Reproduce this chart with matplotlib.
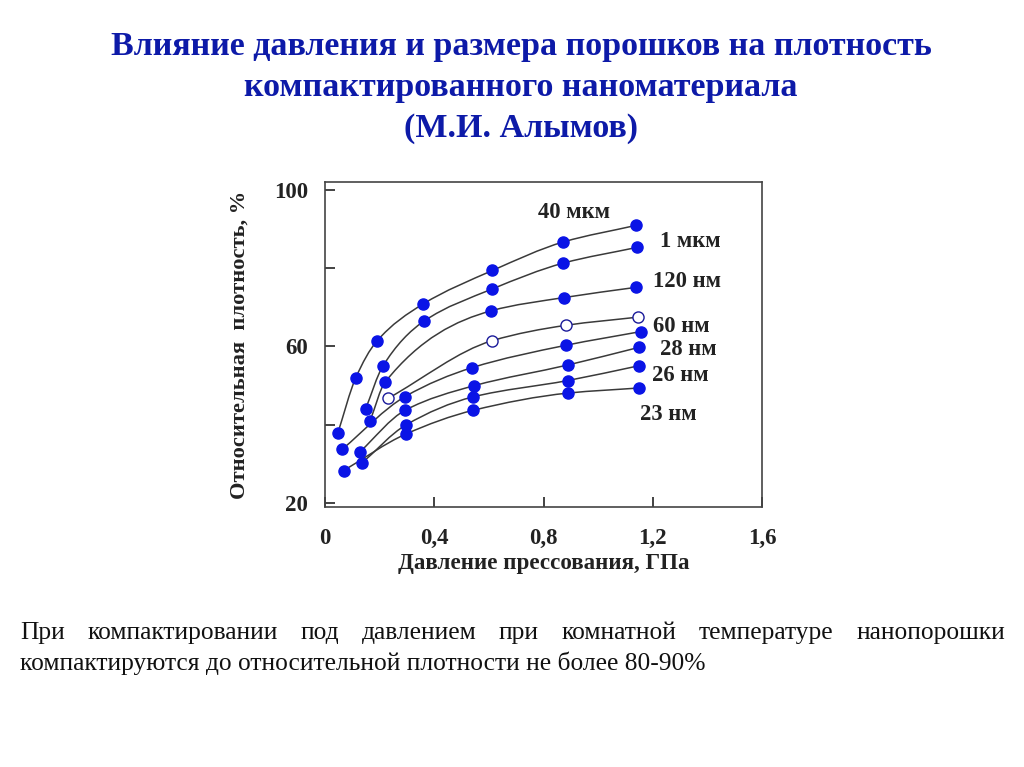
# Влияние давления и размера порошков на плотность (М.И. Алымов)
import numpy as np
import matplotlib.pyplot as plt
from matplotlib.path import Path
from matplotlib.patches import PathPatch

plt.rcParams['font.family'] = ['Liberation Serif', 'DejaVu Serif']

# данные (давление, ГПа / относительная плотность, %)
x_40mkm = [0.047, 0.112, 0.189, 0.358, 0.613, 0.873, 1.137]
y_40mkm = [37.9, 51.9, 61.3, 70.8, 79.4, 86.7, 90.9]

x_1mkm = [0.149, 0.211, 0.361, 0.613, 0.873, 1.142]
y_1mkm = [44.1, 54.9, 66.4, 74.7, 81.3, 85.3]

x_120nm = [0.165, 0.220, 0.608, 0.876, 1.139]
y_120nm = [41.0, 50.9, 69.1, 72.5, 75.1]

x_60nm = [0.232, 0.613, 0.882, 1.147]
y_60nm = [46.8, 61.5, 65.4, 67.5]

x_28nm = [0.064, 0.293, 0.539, 0.882, 1.156]
y_28nm = [33.8, 47.2, 54.6, 60.3, 63.8]

x_26nm = [0.128, 0.293, 0.547, 0.891, 1.151]
y_26nm = [33.1, 43.7, 50.0, 55.3, 59.8]

x_25nm = [0.135, 0.295, 0.541, 0.889, 1.151]
y_25nm = [30.2, 39.9, 47.1, 51.3, 55.1]

x_23nm = [0.068, 0.295, 0.543, 0.891, 1.151]
y_23nm = [28.3, 37.6, 43.7, 48.1, 49.4]

# подписи кривых и их места
labels = ['40 мкм', '1 мкм', '120 нм', '60 нм', '28 нм', '26 нм', '23 нм']
label_x = [0.912, 1.337, 1.326, 1.303, 1.329, 1.300, 1.256]
label_y = [94.1, 86.9, 76.7, 65.2, 59.3, 52.7, 42.7]

x_ticks = [0, 0.4, 0.8, 1.2, 1.6]
x_ticklabels = ['0', '0,4', '0,8', '1,2', '1,6']
y_ticks = [20, 40, 60, 80, 100]
y_ticklabels = ['20', '', '60', '', '100']

title = ['Влияние давления и размера порошков на плотность',
         'компактированного наноматериала',
         '(М.И. Алымов)']
text_line1 = 'При компактировании под давлением при комнатной температуре нанопорошки'
text_line2 = 'компактируются до относительной плотности не более 80-90%'


def smooth_path(xs, ys):
    # гладкая кривая через точки (монотонный кубический Эрмит -> Bezier)
    x = np.asarray(xs, float)
    y = np.asarray(ys, float)
    h = np.diff(x)
    d = np.diff(y) / h
    m = np.empty_like(y)
    m[0], m[-1] = d[0], d[-1]
    for i in range(1, len(x) - 1):
        if d[i - 1] * d[i] <= 0:
            m[i] = 0
        else:
            w1 = 2 * h[i] + h[i - 1]
            w2 = h[i] + 2 * h[i - 1]
            m[i] = (w1 + w2) / (w1 / d[i - 1] + w2 / d[i])
    verts = [(x[0], y[0])]
    codes = [Path.MOVETO]
    for i in range(len(x) - 1):
        verts += [(x[i] + h[i] / 3, y[i] + m[i] * h[i] / 3),
                  (x[i + 1] - h[i] / 3, y[i + 1] - m[i + 1] * h[i] / 3),
                  (x[i + 1], y[i + 1])]
        codes += [Path.CURVE4] * 3
    return Path(verts, codes)


fig = plt.figure(figsize=(10.24, 7.67), dpi=100)
ax = fig.add_axes([0.3174, 0.339, 0.4268, 0.4237])

series = [(x_40mkm, y_40mkm, True), (x_1mkm, y_1mkm, True),
          (x_120nm, y_120nm, True), (x_60nm, y_60nm, False),
          (x_28nm, y_28nm, True), (x_26nm, y_26nm, True),
          (x_25nm, y_25nm, True), (x_23nm, y_23nm, True)]

for xs, ys, filled in series:
    ax.add_patch(PathPatch(smooth_path(xs, ys), fill=False,
                           edgecolor='#3a3a3a', lw=1.1, zorder=2))
    if filled:
        ax.plot(xs, ys, 'o', color='#0a14e6', ms=8, mec='#0a14e6', zorder=3)
    else:
        ax.plot(xs, ys, 'o', mfc='white', mec='#1a1a9a', ms=8, mew=1.0, zorder=3)

for lab, lx, ly in zip(labels, label_x, label_y):
    ax.text(lx, ly, lab, fontsize=16.3, fontweight='bold', color='#222222',
            ha='center', va='center')

ax.set_xlim(0, 1.6)
ax.set_ylim(19, 102)
ax.set_xticks(x_ticks)
ax.set_xticklabels(x_ticklabels)
ax.set_yticks(y_ticks)
ax.set_yticklabels(y_ticklabels)
ax.tick_params(direction='in', length=7, width=1.2, labelsize=16.5, colors='#222222')
ax.tick_params(axis='x', pad=15)
ax.tick_params(axis='y', pad=12)
for t in ax.get_xticklabels() + ax.get_yticklabels():
    t.set_fontweight('bold')
for s in ax.spines.values():
    s.set_color('#444444')
    s.set_linewidth(1.2)

ax.set_xlabel('Давление прессования, ГПа', fontsize=16.6, fontweight='bold',
              color='#222222', labelpad=3)
ax.set_ylabel('Относительная  плотность, %', fontsize=16.2, fontweight='bold',
              color='#222222', labelpad=18)

for i, line in enumerate(title):
    fig.text(521 / 1024, 1 - (47 + 40.5 * i) / 767, line, fontsize=24.5,
             fontweight='bold', color='#0d1aa8', ha='center', va='center')

# первая строка текста по ширине
fig.canvas.draw()
renderer = fig.canvas.get_renderer()
words = text_line1.split()
objs = [fig.text(0, 1 - 633 / 767, w, fontsize=18.4, color='#111111', va='center')
        for w in words]
widths = [o.get_window_extent(renderer).width for o in objs]
left, right = 20, 1005
gap = (right - left - sum(widths)) / (len(words) - 1)
pos = left
for o, w in zip(objs, widths):
    o.set_x(pos / 1024)
    pos += w + gap

fig.text(20 / 1024, 1 - 663 / 767, text_line2, fontsize=18.4, color='#111111',
         va='center')

fig.savefig('out.png', dpi=100)
